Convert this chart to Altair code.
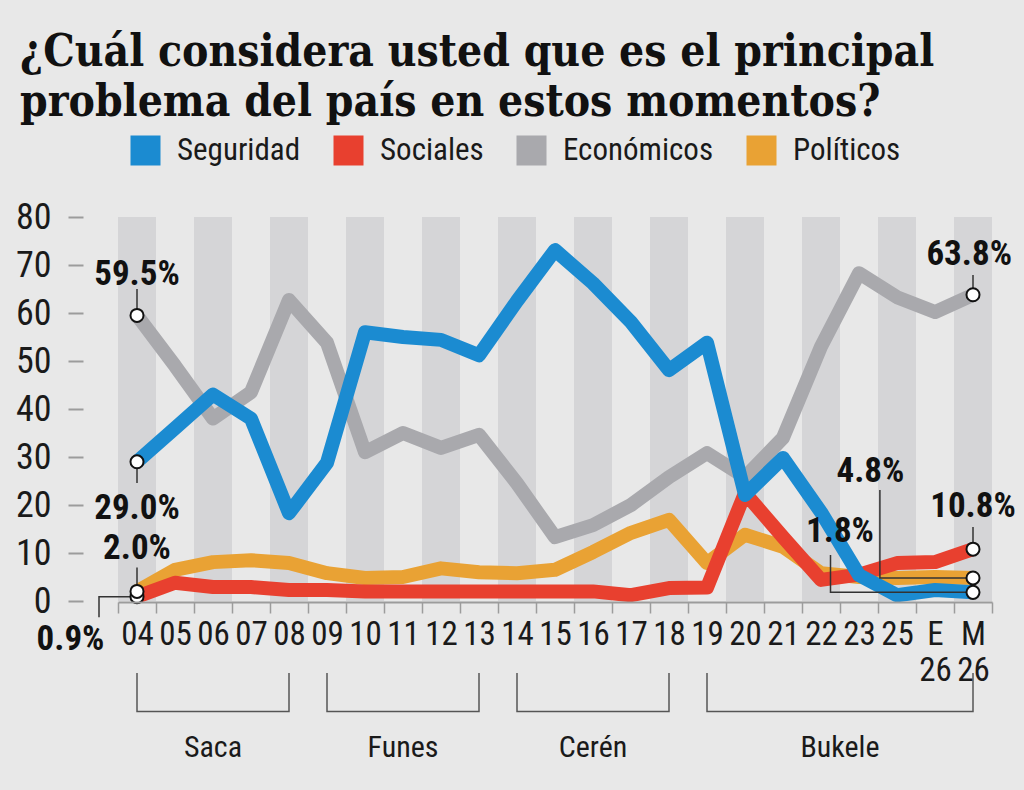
import altair as alt
import pandas as pd

# Survey years (last two are the January and May 2026 readings)
cats = ["04", "05", "06", "07", "08", "09", "10", "11", "12", "13", "14", "15",
        "16", "17", "18", "19", "20", "21", "22", "23", "25", "E 26", "M 26"]

series_names = ["Seguridad", "Sociales", "Económicos", "Políticos"]
series_colors = ["#1b8bd1", "#e8402f", "#a9a9ad", "#e9a234"]

seguridad = [29.0, 36, 43, 38, 18.3, 28.8, 56, 55, 54.4, 51.2, 62.5, 73.1,
             66.2, 58.1, 48.1, 53.8, 22.1, 29.8, 18.5, 5.4, 1.2, 2.3, 1.8]
sociales = [0.9, 3.8, 2.9, 2.9, 2.3, 2.3, 2, 2, 2, 2, 2, 2,
            2, 1.2, 2.7, 2.8, 22.5, 13.3, 4.4, 5.5, 7.9, 8.1, 10.8]
economicos = [59.5, 49, 38, 43.5, 62.7, 53.8, 31, 35, 31.9, 34.6, 24.5, 13.3,
              15.8, 20, 25.8, 30.8, 25.8, 34, 53, 68.3, 63.3, 60.2, 63.8]
politicos = [2.0, 6.5, 8.1, 8.5, 7.9, 5.8, 4.8, 5, 6.8, 6, 5.8, 6.5,
             10.2, 14.2, 16.9, 7.9, 13.8, 11.3, 5.8, 5, 4.8, 5, 4.8]

# Presidential terms shown under the axis: (name, first year, last year)
terms = ["Saca", "Funes", "Cerén", "Bukele"]
term_start = ["04", "09", "14", "19"]
term_end = ["08", "13", "18", "M 26"]

values = {"Seguridad": seguridad, "Sociales": sociales,
          "Económicos": economicos, "Políticos": politicos}

NARROW = "Roboto Condensed, DejaVu Sans Condensed, sans-serif"
INK = "#1a1a1a"
W, H = 874, 384

rows = []
for s in series_names:
    for i, (c, v) in enumerate(zip(cats, values[s])):
        rows.append({"serie": s, "cat": c, "i": i, "v": v})
df = pd.DataFrame(rows)

x_band = alt.Scale(domain=cats, paddingInner=0, paddingOuter=0)
x_num = alt.Scale(domain=[-0.5, len(cats) - 0.5], nice=False, zero=False)
y_scale = alt.Scale(domain=[0, 80], nice=False, zero=False)
color_scale = alt.Scale(domain=series_names, range=series_colors)

x_axis = alt.Axis(
    title=None, labelAngle=0, labelFont=NARROW, labelFontSize=33,
    labelColor=INK, labelPadding=5, labelLineHeight=36,
    labelExpr="split(datum.label, ' ')", domainColor="#9c9c9c", domainWidth=2,
    tickBand="extent", tickColor="#9c9c9c", tickWidth=1.5, tickSize=11,
    offset=1,
)
y_axis = alt.Axis(
    title=None, values=list(range(0, 81, 10)), domain=False, grid=False,
    labelFont=NARROW, labelFontSize=36, labelColor=INK, labelPadding=17,
    tickColor="#9c9c9c", tickWidth=2, tickSize=15, offset=35,
)


def y_enc(field):
    return alt.Y(field, scale=y_scale, axis=y_axis)


# Alternating background columns
stripes = alt.Chart(pd.DataFrame({"cat": cats[::2]})).mark_rect(
    color="#d5d5d7"
).encode(
    x=alt.X("cat:N", scale=x_band, sort=cats, axis=x_axis),
    y=alt.Y(datum=80, scale=y_scale, axis=y_axis),
    y2=alt.Y2(datum=0),
)

legend = alt.Legend(
    title=None, orient="none", legendX=12, legendY=-82, direction="horizontal",
    symbolType="square", symbolSize=225, symbolStrokeWidth=15,
    symbolOpacity=1, labelFont=NARROW, labelFontSize=31, labelColor=INK,
    labelOffset=16, columnPadding=10, labelLimit=300,
)

lines = []
for s in ["Económicos", "Políticos", "Sociales", "Seguridad"]:
    lines.append(
        alt.Chart(df[df.serie == s]).mark_line(
            strokeWidth=14, strokeJoin="round", strokeCap="butt"
        ).encode(
            x=alt.X("cat:N", scale=x_band, sort=cats, axis=None),
            y=y_enc("v:Q"),
            color=alt.Color("serie:N", scale=color_scale, legend=legend),
        )
    )

# Callouts: text, x index, baseline value, leader vertices
ends = df[(df.i == 0) | (df.i == len(cats) - 1)]
last = len(cats) - 1
callouts = [
    ("59.5%", 0, 65.9, [(0, economicos[0]), (0, 65.0)]),
    ("29.0%", 0, 17.0, [(0, seguridad[0]), (0, 24.6)]),
    ("2.0%", 0, 8.8, [(0, politicos[0]), (0, 7.0)]),
    ("0.9%", -1.75, -10.2, [(0, sociales[0]), (-1, sociales[0]), (-1, -3.4)]),
    ("63.8%", last - 0.1, 70.0, [(last, economicos[-1]), (last, 67.9)]),
    ("10.8%", last, 17.5, [(last, sociales[-1]), (last, 15.4)]),
    ("4.8%", last - 2.7, 24.8, [(last, politicos[-1]), (last - 2.45, politicos[-1]), (last - 2.45, 23.1)]),
    ("1.8%", last - 3.5, 12.3, [(last, seguridad[-1]), (last - 3.75, seguridad[-1]), (last - 3.75, 9.6)]),
]

lead_rows, text_rows = [], []
for k, (txt, tx, ty, path) in enumerate(callouts):
    text_rows.append({"t": txt, "xi": tx, "yv": ty})
    for j, (px, py) in enumerate(path):
        lead_rows.append({"id": k, "o": j, "xi": px, "yv": py})

leaders = alt.Chart(pd.DataFrame(lead_rows)).mark_line(
    color="#333333", strokeWidth=1.5, strokeJoin="miter"
).encode(
    x=alt.X("xi:Q", scale=x_num, axis=None),
    y=y_enc("yv:Q"),
    detail="id:N", order="o:Q",
)

points = alt.Chart(ends).mark_point(
    filled=True, fill="white", stroke="#111111", strokeWidth=2, size=170, opacity=1
).encode(
    x=alt.X("cat:N", scale=x_band, sort=cats, axis=None),
    y=y_enc("v:Q"),
)

labels = alt.Chart(pd.DataFrame(text_rows)).mark_text(
    font=NARROW, fontWeight="bold", fontSize=35, color="#111111",
    baseline="alphabetic", align="center",
).encode(
    x=alt.X("xi:Q", scale=x_num, axis=None),
    y=y_enc("yv:Q"),
    text="t:N",
)

# Term brackets beneath the axis
br_rows, br_text = [], []
for k, (name, a, b) in enumerate(zip(terms, term_start, term_end)):
    ia, ib = cats.index(a), cats.index(b)
    top, bottom = -15.0, -23.0
    for j, (px, py) in enumerate([(ia, top), (ia, bottom), (ib, bottom), (ib, top)]):
        br_rows.append({"id": k, "o": j, "xi": px, "yv": py})
    br_text.append({"t": name, "xi": (ia + ib) / 2, "yv": -32.6})

brackets = alt.Chart(pd.DataFrame(br_rows)).mark_line(
    color="#555555", strokeWidth=1.5, strokeJoin="miter"
).encode(
    x=alt.X("xi:Q", scale=x_num, axis=None),
    y=y_enc("yv:Q"),
    detail="id:N", order="o:Q",
)
term_labels = alt.Chart(pd.DataFrame(br_text)).mark_text(
    font=NARROW, fontSize=30, color=INK, baseline="alphabetic", align="center"
).encode(
    x=alt.X("xi:Q", scale=x_num, axis=None),
    y=y_enc("yv:Q"),
    text="t:N",
)

chart = alt.layer(
    stripes, *lines, leaders, points, labels, brackets, term_labels
).resolve_scale(
    x="independent"
).properties(
    width=W, height=H,
    title=alt.TitleParams(
        text=["¿Cuál considera usted que es el principal",
              "problema del país en estos momentos?"],
        font="DejaVu Serif Condensed", fontWeight="bold", fontSize=44,
        lineHeight=50, color="#111111", anchor="start", frame="group",
        dx=-98, offset=10,
    ),
    padding={"left": 118, "top": 217, "right": 32, "bottom": 189},
    autosize=alt.AutoSizeParams(type="none"),
).configure(
    background="#e8e8e8",
).configure_view(
    stroke=None,
)

chart.save("out.html", embed_options={"renderer": "svg", "actions": False})
